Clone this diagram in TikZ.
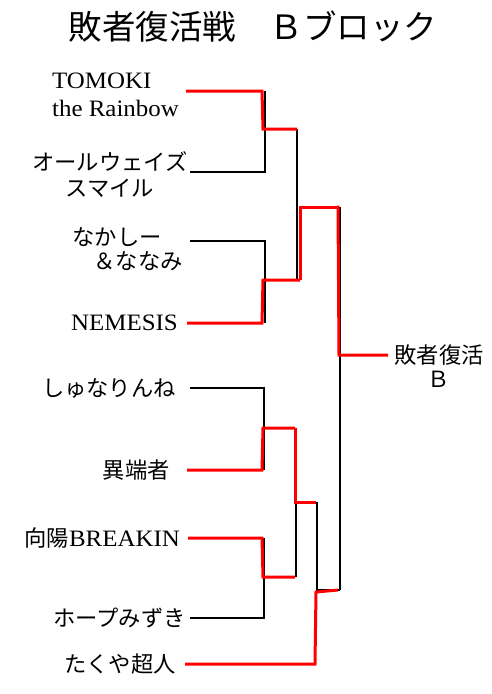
\documentclass[tikz,border=0pt]{standalone}
\usepackage{fontspec}
\setmainfont[FakeStretch=1.06]{Liberation Serif}
\newfontfamily\jp{Noto Sans CJK JP}
\begin{document}
\begin{tikzpicture}[x=1pt,y=-1pt,
  blk/.style={line width=2pt,black},
  win/.style={line width=3pt,red},
  jpl/.style={font=\jp\fontsize{22.3}{24}\selectfont,inner sep=0pt},
  rml/.style={font=\fontsize{23.5}{26}\selectfont,inner sep=0pt}]
\fill[white] (0,0) rectangle (492,694);
\useasboundingbox (0,0) rectangle (492,694);
% title
\node[font=\jp\fontsize{33.5}{36}\selectfont,inner sep=0pt] (title) at (253,27) {敗者復活戦　Ｂブロック};
% entrants
\node[rml,anchor=west] (e1a) at (52,81) {TOMOKI};
\node[rml,anchor=west] (e1b) at (52,108) {the Rainbow};
\node[jpl] (e2a) at (110,162) {オールウェイズ};
\node[jpl] (e2b) at (110,188) {スマイル};
\node[jpl,anchor=east] (e3a) at (162,237) {なかしー};
\node[jpl,anchor=east] (e3b) at (183,261) {＆ななみ};
\node[rml,anchor=east] (e4) at (178,323) {NEMESIS};
\node[jpl,anchor=east] (e5) at (176,388) {しゅなりんね};
\node[jpl,anchor=east] (e6) at (170,470) {異端者};
\node[jpl,anchor=east] (e7) at (180,538) {向陽{\rmfamily\fontsize{23.5}{26}\selectfont BREAKIN}};
\node[jpl,anchor=east] (e8) at (186,618) {ホープみずき};
\node[jpl,anchor=east] (e9) at (176,664) {たくや超人};
\node[jpl] (wa) at (439,355) {敗者復活};
\node[jpl] (wb) at (439,379) {Ｂ};
% joints
\coordinate (s1) at (186,91);
\coordinate (s2) at (190,172);
\coordinate (s3) at (190,241);
\coordinate (s4) at (187,323);
\coordinate (s5) at (190,388);
\coordinate (s6) at (187,470);
\coordinate (s7) at (188,538);
\coordinate (s8) at (190,618);
\coordinate (s9) at (185,664);
\coordinate (m1) at (297,129);
\coordinate (m2) at (300,280);
\coordinate (m3) at (295,428);
\coordinate (m4) at (295,577);
\coordinate (m5) at (337,207);
\coordinate (m6) at (316,502);
\coordinate (m7) at (338,590);
\coordinate (fin) at (388,355);
% black bracket lines
\draw[blk] (s1 -| 265,0) -- (265,172) -- (s2);
\draw[blk] (s3) -- (265,241) -- (265,323);
\draw[blk] (m1) -- (297,280);
\draw[blk] (340,207) -- (340,590);
\draw[blk] (s5) -- (264,388) -- (264,470);
\draw[blk] (s7 -| 264,0) -- (264,618) -- (s8);
\draw[blk] (296,428) -- (296,577);
\draw[blk] (317,502) -- (317,590) -- (340,590);
% winner lines
\draw[win] (s1) -- (262,91) -- (263,129) -- (m1);
\draw[win] (s4) -- (262,323) -- (263,280) -- (m2);
\draw[win] (m2) -- (300,207) -- (m5);
\draw[win] (m5) -- (338,207) -- (339,355) -- (fin);
\draw[win] (s6) -- (262,470) -- (263,428) -- (m3);
\draw[win] (m3) -- (295,502) -- (m6);
\draw[win] (s7) -- (262,538) -- (263,577) -- (m4);
\draw[win] (s9) -- (315,664) -- (316,592) -- (m7);
\end{tikzpicture}
\end{document}
